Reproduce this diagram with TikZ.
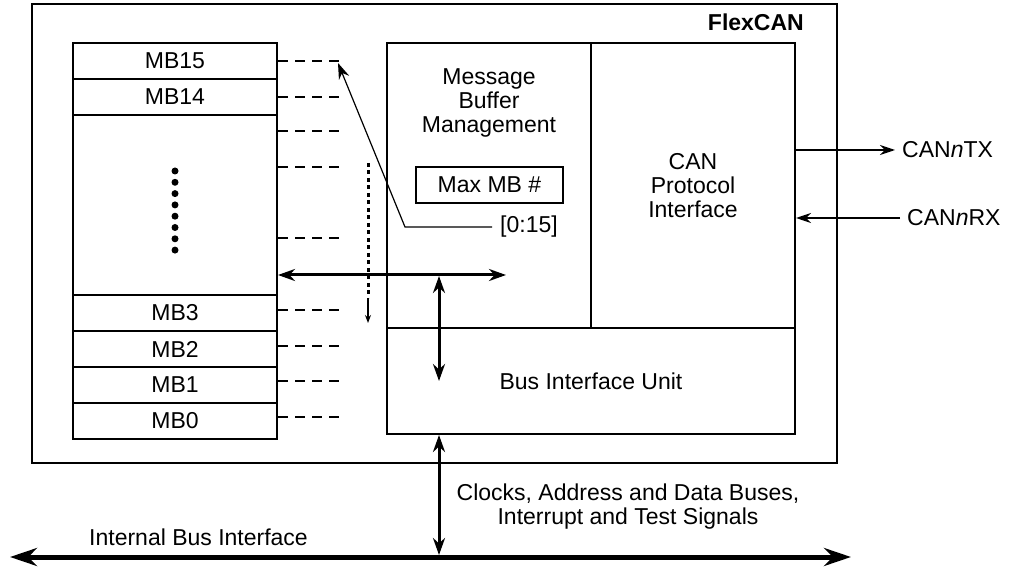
\documentclass[tikz,border=0pt]{standalone}
\usepackage{fontspec}
\setmainfont{Liberation Sans}
\usetikzlibrary{arrows.meta,positioning,calc}
\newcommand{\lblfont}{\fontsize{23}{24}\selectfont}
\tikzset{
  mbnode/.style={rectangle,draw,line width=2pt,minimum width=204pt,minimum height=36pt,
    inner sep=0pt,font=\lblfont},
  blk/.style={rectangle,draw,line width=2pt,inner sep=0pt,align=center,font=\lblfont},
  txt/.style={inner sep=0pt,align=center,font=\lblfont},
  stub/.style={line width=1.6pt,dash pattern=on 10pt off 7pt},
  dblarr/.style={{Stealth[length=17pt,width=12pt]}-{Stealth[length=17pt,width=12pt]},line width=3pt},
  sarr/.style={-{Stealth[length=15pt,width=10pt]},line width=1.6pt}
}

\begin{document}
\begin{tikzpicture}[x=1pt,y=-1pt,
  ptr/.style={-{Stealth[length=16pt,width=11pt]},line width=1.2pt},
  busarr/.style={{Stealth[length=27pt,width=18pt]}-{Stealth[length=27pt,width=18pt]},line width=5pt}
]
\useasboundingbox (0,0) rectangle (1012,569);

% FlexCAN module
\node[blk,minimum width=805pt,minimum height=459pt] (flexcan) at (434.5,233.5) {};
\node[txt,anchor=east,font=\lblfont\bfseries] (fclbl) at (804,22) {FlexCAN};

% message buffers
\node[mbnode] (mb15) at (175,61) {MB15};
\node[mbnode] (mb14) at (175,97) {MB14};
\node[mbnode,minimum height=180pt] (mbgap) at (175,205) {};
\node[mbnode] (mb3) at (175,313) {MB3};
\node[mbnode] (mb2) at (175,349) {MB2};
\node[mbnode] (mb1) at (175,385) {MB1};
\node[mbnode] (mb0) at (175,421) {MB0};
\foreach \i in {0,...,7}
  \fill (175,171+11.3*\i) circle (3.5pt);

\foreach \y in {61,97,131,167,238,310,346,381,417}
  \draw[stub] (mbgap.east |- 0,\y) -- ++(61,0);

% inner blocks
\node[blk,minimum width=204pt,minimum height=285pt] (mbm) at (489,185.5) {};
\node[txt] (mbmlbl) at (489,103) {Message\\Buffer\\Management};
\node[blk,minimum width=204pt,minimum height=285pt] (cpi) at (693,185.5) {CAN\\Protocol\\Interface};
\node[blk,minimum width=408pt,minimum height=106pt] (biu) at (591,381) {Bus Interface Unit};
\node[blk,minimum width=147pt,minimum height=36pt] (maxmb) at (489.5,185) {Max MB \#};
\node[txt,inner xsep=8pt] (rng) at (529,227) {[0:15]};

% pointer to MB15
\coordinate (bend) at (405,227);
\coordinate (d15) at (338,63);
\draw[ptr] (rng.west) -- (bend) -- (d15);

% dotted scan arrow
\coordinate (dtop) at (368,163);
\coordinate (dend) at (368,298);
\coordinate (dtip) at (368,323);
\draw[line width=3pt,dash pattern=on 4pt off 3.5pt] (dtop) -- (dend);
\draw[-{Stealth[length=8pt,width=6pt]},line width=1.2pt] (dend) -- (dtip);

% internal buses
\coordinate (hl) at (mbgap.east |- 0,275);
\coordinate (hr) at (506,275);
\draw[dblarr] (hl) -- (hr);
\draw[dblarr] (439,276) -- (439,381);
\coordinate (busj) at (439,555);
\draw[dblarr] (biu.south -| busj) -- (busj);

% CAN pins
\coordinate (txend) at (895,150);
\coordinate (rxstart) at (900,218);
\draw[sarr] (cpi.east |- txend) -- (txend);
\draw[sarr] (rxstart) -- (cpi.east |- rxstart);
\node[txt,anchor=west] (tx) at (902,150) {CAN\textit{n}TX};
\node[txt,anchor=west] (rx) at (907,218) {CAN\textit{n}RX};

% system bus
\coordinate (busl) at (10,557);
\coordinate (busr) at (851,557);
\draw[busarr] (busl) -- (busr);
\node[txt] (sigs) at (628,506.5) {Clocks, Address and Data Buses,\\Interrupt and Test Signals};
\node[txt] (ibi) at (198.5,537) {Internal Bus Interface};

\end{tikzpicture}
\end{document}
